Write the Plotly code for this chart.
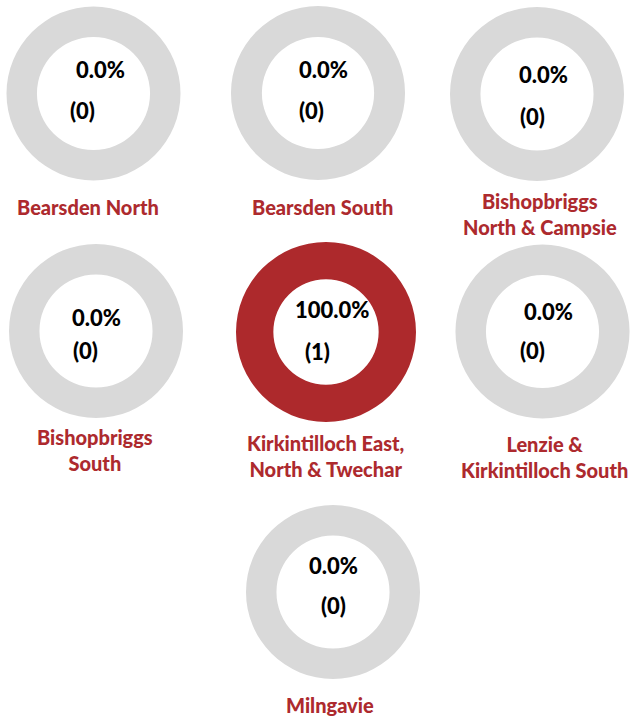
import plotly.graph_objects as go

W, H = 631, 718

areas = ["Bearsden North", "Bearsden South", "Bishopbriggs<br>North & Campsie",
         "Bishopbriggs<br>South", "Kirkintilloch East,<br>North & Twechar",
         "Lenzie &<br>Kirkintilloch South", "Milngavie"]
counts = [0, 0, 0, 0, 1, 0, 0]
totals = [1, 1, 1, 1, 1, 1, 1]

# layout (pixel) positions: donut centre, outer radius, hole ratio
centres = [(93.5, 93.5), (318, 93), (537, 94), (96, 331), (326, 332), (542.5, 331.5), (333, 592)]
radii = [87, 87, 87, 87, 90, 87, 87]
holes = [0.65, 0.645, 0.65, 0.65, 0.585, 0.65, 0.65]
pct_pos = [(100, 70), (324, 69), (543, 74), (96, 317), (332, 310), (548, 311), (333, 565)]
cnt_pos = [(82, 110), (311, 110), (532, 117), (85, 351), (317, 352), (532, 350), (333, 605)]
lab_pos = [(88, 207), (322, 207), (540, 214), (95, 450), (325, 456), (544, 457), (330, 705)]

RED = "#ad292c"
GREY = "#d9d9d9"
LABEL = "#ad2a2e"
FONT = "Lato"

fig = go.Figure()
annotations = []
for i, name in enumerate(areas):
    cx, cy = centres[i]
    r = radii[i]
    fig.add_trace(go.Pie(
        values=[counts[i], totals[i] - counts[i]],
        labels=["Yes", "No"],
        marker=dict(colors=[RED, GREY], line=dict(width=0)),
        hole=holes[i],
        sort=False,
        direction="clockwise",
        rotation=0,
        textinfo="none",
        hoverinfo="skip",
        showlegend=False,
        domain=dict(x=[(cx - r) / W, (cx + r) / W], y=[1 - (cy + r) / H, 1 - (cy - r) / H]),
    ))
    pct = counts[i] / totals[i] * 100
    px_, py_ = pct_pos[i]
    annotations.append(dict(x=px_ / W, y=1 - py_ / H, xref="paper", yref="paper",
                            text=f"{pct:.1f}%", showarrow=False,
                            font=dict(family=FONT, size=22, color="#000000", weight=900),
                            xanchor="center", yanchor="middle"))
    qx, qy = cnt_pos[i]
    annotations.append(dict(x=qx / W, y=1 - qy / H, xref="paper", yref="paper",
                            text=f"({counts[i]})", showarrow=False,
                            font=dict(family=FONT, size=22, color="#000000", weight=900),
                            xanchor="center", yanchor="middle"))
    lx, ly = lab_pos[i]
    annotations.append(dict(x=lx / W, y=1 - ly / H, xref="paper", yref="paper",
                            text=name, showarrow=False,
                            font=dict(family=FONT, size=20, color=LABEL, weight=900),
                            xanchor="center", yanchor="middle", align="center"))

fig.update_layout(
    width=W, height=H,
    margin=dict(l=0, r=0, t=0, b=0),
    paper_bgcolor="white", plot_bgcolor="white",
    annotations=annotations,
)
fig.write_html(
    "out.html",
    config={"displayModeBar": False},
    post_script="document.body.style.margin='0';document.body.style.overflow='hidden';",
)
